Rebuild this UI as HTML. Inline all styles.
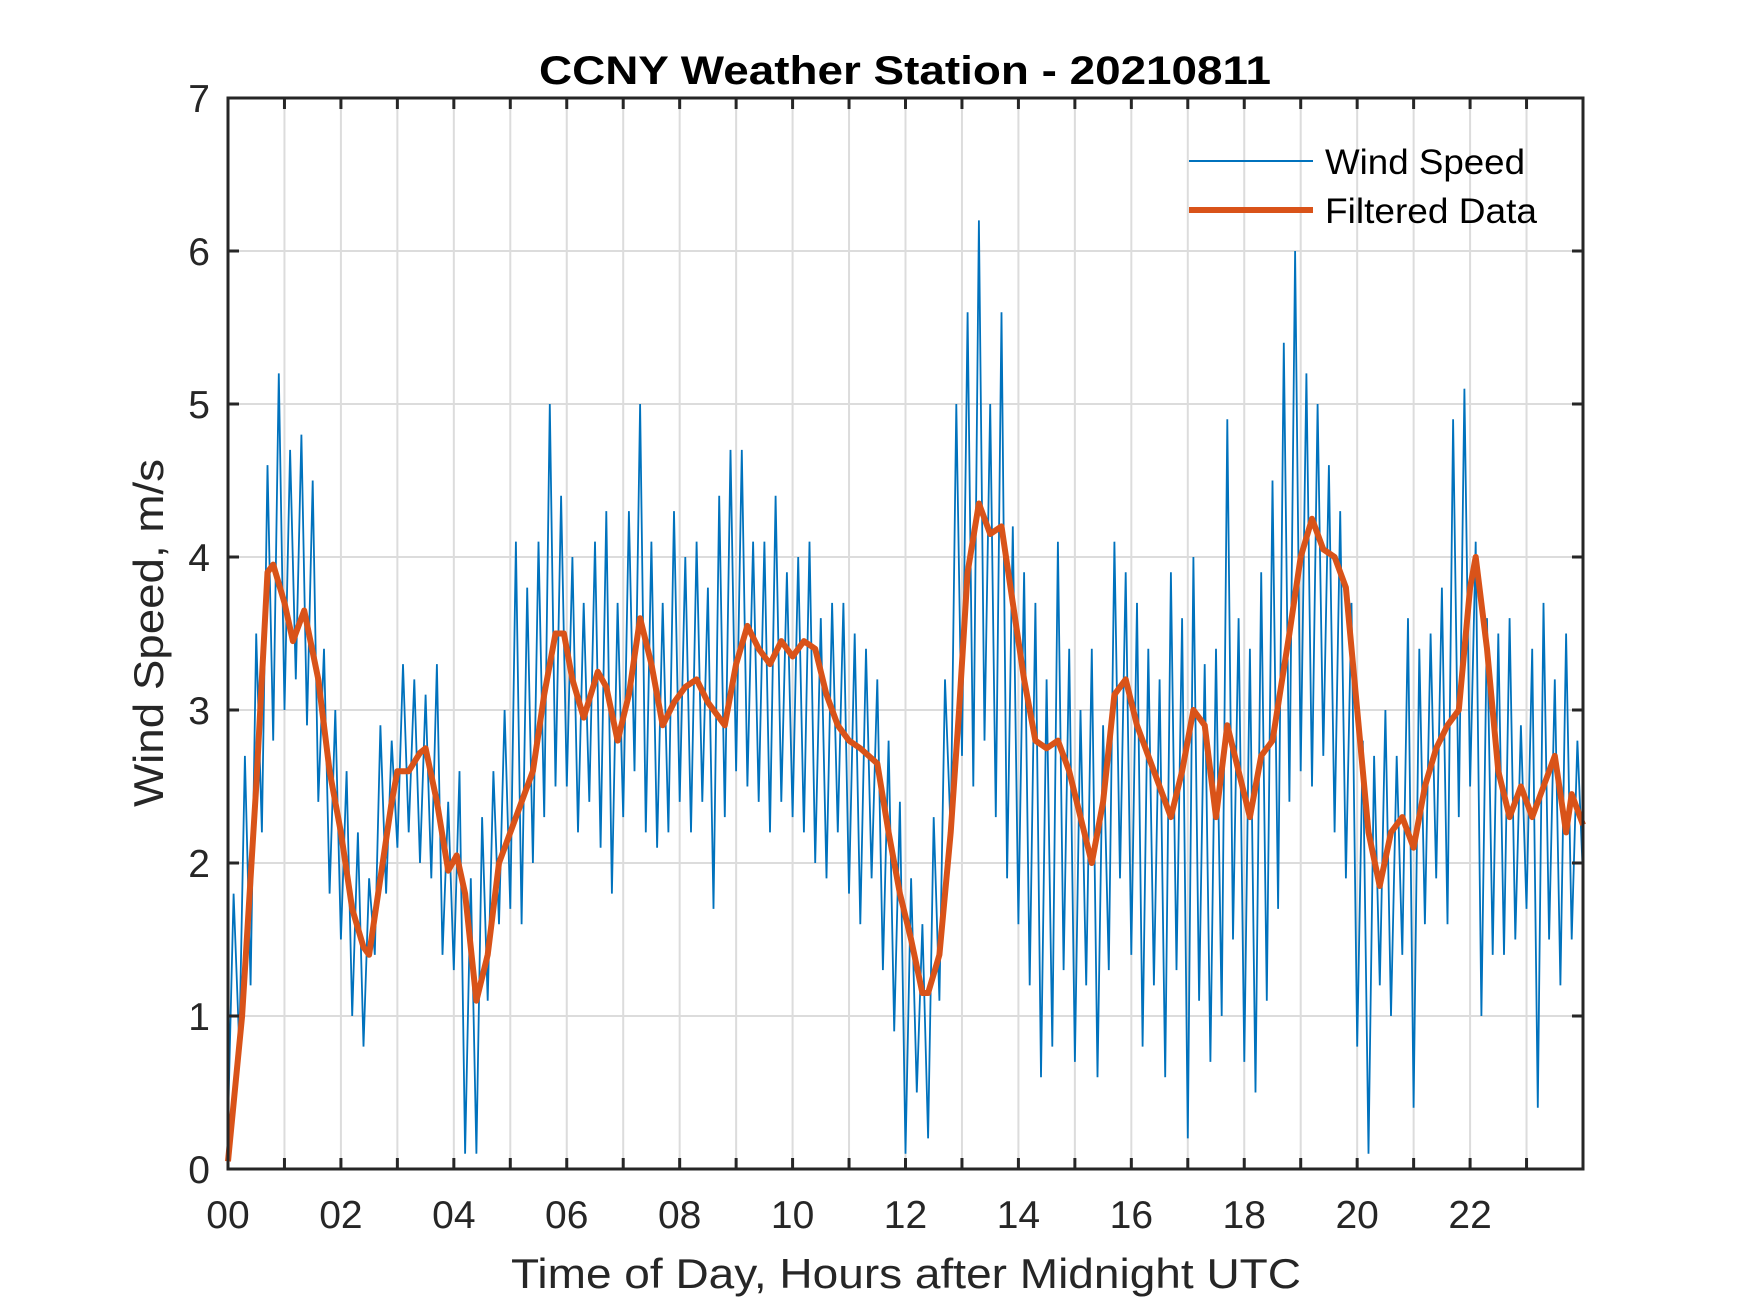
<!DOCTYPE html>
<html><head><meta charset="utf-8"><style>
html,body{margin:0;padding:0;background:#fff;}
svg{display:block;font-family:"Liberation Sans",Arial,sans-serif;}
</style></head><body>
<svg id="chart" width="1750" height="1313" viewBox="0 0 1750 1313" xmlns="http://www.w3.org/2000/svg">
<rect width="1750" height="1313" fill="#fff"/>
<g id="grid"></g>
<g id="series"></g>
<g id="axes"></g>
<text x="905" y="84" text-anchor="middle" font-size="40" font-weight="bold" textLength="732" lengthAdjust="spacingAndGlyphs">CCNY Weather Station - 20210811</text>
<text x="906" y="1288" text-anchor="middle" font-size="42" fill="#262626" textLength="790" lengthAdjust="spacingAndGlyphs">Time of Day, Hours after Midnight UTC</text>
<text transform="translate(163,633) rotate(-90)" text-anchor="middle" font-size="42" fill="#262626" textLength="348" lengthAdjust="spacingAndGlyphs">Wind Speed, m/s</text>
<g>
<line x1="1189" y1="161" x2="1313" y2="161" stroke="#0072BD" stroke-width="2"/>
<text x="1325" y="174" font-size="35" textLength="200" lengthAdjust="spacingAndGlyphs">Wind Speed</text>
<line x1="1189" y1="210" x2="1313" y2="210" stroke="#D95319" stroke-width="6"/>
<text x="1325" y="223" font-size="35" textLength="212" lengthAdjust="spacingAndGlyphs">Filtered Data</text>
</g>
</svg>
<script>
const windStep = 0.1;
const windValues = [
0.3,1.8,0.8,2.7,1.2,3.5,2.2,4.6,2.8,5.2,
3.0,4.7,3.2,4.8,2.9,4.5,2.4,3.4,1.8,3.0,
1.5,2.6,1.0,2.2,0.8,1.9,1.4,2.9,1.8,2.8,
2.1,3.3,2.2,3.2,2.0,3.1,1.9,3.3,1.4,2.4,
1.3,2.6,0.1,1.9,0.1,2.3,1.1,2.6,1.6,3.0,
1.7,4.1,1.6,3.8,2.0,4.1,2.3,5.0,2.5,4.4,
2.5,4.0,2.2,3.7,2.4,4.1,2.1,4.3,1.8,3.7,
2.3,4.3,2.6,5.0,2.2,4.1,2.1,3.7,2.2,4.3,
2.4,4.0,2.2,4.1,2.4,3.8,1.7,4.4,2.3,4.7,
2.6,4.7,2.5,4.1,2.4,4.1,2.2,4.4,2.4,3.9,
2.3,4.0,2.2,4.1,2.0,3.6,1.9,3.7,2.2,3.7,
1.8,3.5,1.6,3.4,1.9,3.2,1.3,2.8,0.9,2.4,
0.1,1.9,0.5,1.6,0.2,2.3,1.1,3.2,2.2,5.0,
2.7,5.6,2.5,6.2,2.8,5.0,2.3,5.6,1.9,4.2,
1.6,3.9,1.2,3.7,0.6,3.2,0.8,4.1,1.3,3.4,
0.7,3.0,1.2,3.4,0.6,2.9,1.3,4.1,1.9,3.9,
1.4,3.7,0.8,3.4,1.2,3.2,0.6,3.9,1.3,3.6,
0.2,4.0,1.1,3.3,0.7,3.4,1.0,4.9,1.5,3.6,
0.7,3.4,0.5,3.9,1.1,4.5,1.7,5.4,2.4,6.0,
2.6,5.2,2.5,5.0,2.7,4.6,2.2,4.3,1.9,3.7,
0.8,2.8,0.1,2.7,1.2,3.0,1.0,2.7,1.4,3.6,
0.4,3.4,1.6,3.5,1.9,3.8,1.6,4.9,2.3,5.1,
2.5,4.1,1.0,3.6,1.4,3.5,1.4,3.6,1.5,2.9,
1.7,3.4,0.4,3.7,1.5,3.2,1.2,3.5,1.5,2.8,
1.9];
const filtHours = [0,0.25,0.5,0.7,0.8,1.0,1.15,1.35,1.6,1.8,2.0,2.2,2.4,2.5,2.7,2.9,3.0,3.2,3.4,3.5,3.7,3.9,4.05,4.2,4.4,4.6,4.8,5.0,5.2,5.4,5.6,5.8,5.95,6.1,6.3,6.55,6.7,6.9,7.1,7.3,7.5,7.7,7.9,8.1,8.3,8.5,8.8,9.0,9.2,9.4,9.6,9.8,10.0,10.2,10.4,10.6,10.8,11.0,11.2,11.5,11.7,11.9,12.1,12.3,12.4,12.6,12.8,12.95,13.1,13.3,13.5,13.7,13.9,14.1,14.3,14.5,14.7,14.9,15.1,15.3,15.5,15.7,15.9,16.1,16.3,16.5,16.7,16.9,17.1,17.3,17.5,17.7,17.9,18.1,18.3,18.5,18.8,19.0,19.2,19.4,19.6,19.8,20.0,20.2,20.4,20.6,20.8,21.0,21.2,21.4,21.6,21.8,22.0,22.1,22.3,22.5,22.7,22.9,23.1,23.3,23.5,23.7,23.8,24];
const filtValues = [0.05,1.0,2.5,3.9,3.95,3.7,3.45,3.65,3.2,2.6,2.2,1.7,1.45,1.4,1.9,2.4,2.6,2.6,2.72,2.75,2.4,1.95,2.05,1.8,1.1,1.4,2.0,2.2,2.4,2.6,3.1,3.5,3.5,3.2,2.95,3.25,3.15,2.8,3.1,3.6,3.3,2.9,3.05,3.15,3.2,3.05,2.9,3.3,3.55,3.4,3.3,3.45,3.35,3.45,3.4,3.1,2.9,2.8,2.75,2.65,2.2,1.8,1.5,1.15,1.15,1.4,2.2,3.0,3.9,4.35,4.15,4.2,3.7,3.2,2.8,2.75,2.8,2.6,2.3,2.0,2.4,3.1,3.2,2.9,2.7,2.5,2.3,2.6,3.0,2.9,2.3,2.9,2.6,2.3,2.7,2.8,3.5,4.0,4.25,4.05,4.0,3.8,3.0,2.2,1.85,2.2,2.3,2.1,2.5,2.75,2.9,3.0,3.8,4.0,3.4,2.6,2.3,2.5,2.3,2.5,2.7,2.2,2.45,2.25];
const xTickLabels = ["00","02","04","06","08","10","12","14","16","18","20","22"];
const yTickLabels = ["0","1","2","3","4","5","6","7"];

const L=228,R=1583,T=98,B=1169;
const X=h=>L+(R-L)*h/24;
const Y=v=>B-(B-T)*v/7;
const NS="http://www.w3.org/2000/svg";
function mk(tag,parent,attrs){const e=document.createElementNS(NS,tag);for(const k in attrs)e.setAttribute(k,attrs[k]);parent.appendChild(e);return e;}
const grid=document.getElementById('grid'),axes=document.getElementById('axes'),series=document.getElementById('series');
for(let h=1;h<24;h++){
  const g=mk('line',grid,{x1:X(h),x2:X(h),y1:T,y2:B,stroke:'#dcdcdc','stroke-width':2});
  
  
  for(const [y1,y2] of [[B,B-11],[T,T+11]]){
    const t=mk('line',axes,{x1:X(h),x2:X(h),y1:y1,y2:y2,stroke:'#262626','stroke-width':3});
    
    
  }
}
for(let v=1;v<7;v++){
  const g=mk('line',grid,{x1:L,x2:R,y1:Y(v),y2:Y(v),stroke:'#dcdcdc','stroke-width':2});
  
  
  for(const [x1,x2] of [[L,L+11],[R,R-11]]){
    const t=mk('line',axes,{x1:x1,x2:x2,y1:Y(v),y2:Y(v),stroke:'#262626','stroke-width':3});
    
    
  }
}
xTickLabels.forEach((s,i)=>{
  const t=mk('text',axes,{x:X(i*2),y:1228,'text-anchor':'middle','font-size':39,fill:'#262626'});
  t.textContent=s;
  
  
});
yTickLabels.forEach((s,i)=>{
  const t=mk('text',axes,{x:210,y:Y(i)+14,'text-anchor':'end','font-size':39,fill:'#262626'});
  t.textContent=s;
  
  
});
const box=mk('rect',axes,{x:L,y:T,width:R-L,height:B-T,fill:'none',stroke:'#262626','stroke-width':3});



const wp=windValues.map((v,i)=>X(Math.min(24,i*windStep)).toFixed(1)+','+Y(v).toFixed(1)).join(' ');
const w=mk('polyline',series,{points:wp,fill:'none',stroke:'#0072BD','stroke-width':1.8,'stroke-linejoin':'miter'});


const fp=filtValues.map((v,i)=>X(filtHours[i]).toFixed(1)+','+Y(v).toFixed(1)).join(' ');
const f=mk('polyline',series,{points:fp,fill:'none',stroke:'#D95319','stroke-width':6,'stroke-linejoin':'round'});


</script>
</body></html>
